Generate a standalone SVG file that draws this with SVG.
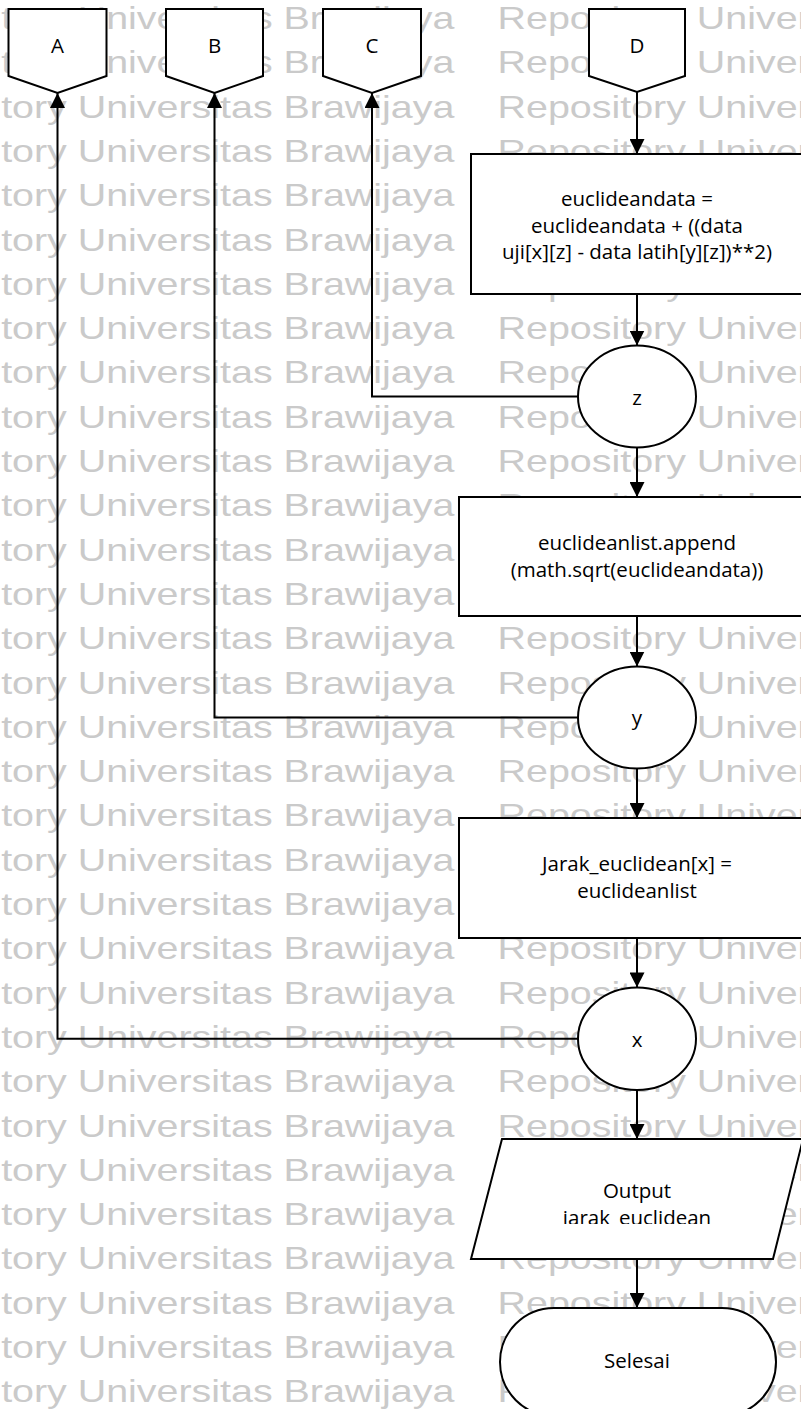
<svg xmlns="http://www.w3.org/2000/svg" xmlns:xlink="http://www.w3.org/1999/xlink" width="801" height="1409" viewBox="0 0 801 1409">
  <style>
    .wm { font-family: "Liberation Sans", Arial, sans-serif; font-size: 32px; fill: #cacaca; }
    .shape { fill: #ffffff; stroke: #000000; stroke-width: 2; }
    .lbl { font-family: "Open Sans", "Liberation Sans", sans-serif; font-size: 20.5px; fill: #000000; text-anchor: middle; }
    .wire { fill: none; stroke: #000000; stroke-width: 2; }
  </style>
  <defs>
    <marker id="arrow" viewBox="0 0 15 15" refX="15" refY="7.5" markerWidth="15" markerHeight="15" markerUnits="userSpaceOnUse" orient="auto">
      <path d="M0,0 L15,7.5 L0,15 z" fill="#000000"/>
    </marker>
    <!-- one watermark row: two copies of the repository line -->
    <g id="wmRow">
      <text class="wm" x="-121.5" y="0" textLength="575.8" lengthAdjust="spacingAndGlyphs">Repository Universitas Brawijaya</text>
      <text class="wm" x="497.6" y="0" textLength="575.8" lengthAdjust="spacingAndGlyphs">Repository Universitas Brawijaya</text>
    </g>
    <clipPath id="outClip">
      <rect x="400" y="1139" width="401" height="85"/>
    </clipPath>
  </defs>

  <rect x="0" y="0" width="801" height="1409" fill="#ffffff"/>

  <!-- page watermark -->
  <g id="watermark">
    <use xlink:href="#wmRow" transform="translate(0,29)"/>
    <use xlink:href="#wmRow" transform="translate(0,73.3)"/>
    <use xlink:href="#wmRow" transform="translate(0,117.6)"/>
    <use xlink:href="#wmRow" transform="translate(0,161.9)"/>
    <use xlink:href="#wmRow" transform="translate(0,206.2)"/>
    <use xlink:href="#wmRow" transform="translate(0,250.5)"/>
    <use xlink:href="#wmRow" transform="translate(0,294.8)"/>
    <use xlink:href="#wmRow" transform="translate(0,339.1)"/>
    <use xlink:href="#wmRow" transform="translate(0,383.4)"/>
    <use xlink:href="#wmRow" transform="translate(0,427.7)"/>
    <use xlink:href="#wmRow" transform="translate(0,472)"/>
    <use xlink:href="#wmRow" transform="translate(0,516.3)"/>
    <use xlink:href="#wmRow" transform="translate(0,560.6)"/>
    <use xlink:href="#wmRow" transform="translate(0,604.9)"/>
    <use xlink:href="#wmRow" transform="translate(0,649.2)"/>
    <use xlink:href="#wmRow" transform="translate(0,693.5)"/>
    <use xlink:href="#wmRow" transform="translate(0,737.8)"/>
    <use xlink:href="#wmRow" transform="translate(0,782.1)"/>
    <use xlink:href="#wmRow" transform="translate(0,826.4)"/>
    <use xlink:href="#wmRow" transform="translate(0,870.7)"/>
    <use xlink:href="#wmRow" transform="translate(0,915)"/>
    <use xlink:href="#wmRow" transform="translate(0,959.3)"/>
    <use xlink:href="#wmRow" transform="translate(0,1003.6)"/>
    <use xlink:href="#wmRow" transform="translate(0,1047.9)"/>
    <use xlink:href="#wmRow" transform="translate(0,1092.2)"/>
    <use xlink:href="#wmRow" transform="translate(0,1136.5)"/>
    <use xlink:href="#wmRow" transform="translate(0,1180.8)"/>
    <use xlink:href="#wmRow" transform="translate(0,1225.1)"/>
    <use xlink:href="#wmRow" transform="translate(0,1269.4)"/>
    <use xlink:href="#wmRow" transform="translate(0,1313.7)"/>
    <use xlink:href="#wmRow" transform="translate(0,1358)"/>
    <use xlink:href="#wmRow" transform="translate(0,1402.3)"/>
  </g>

  <!-- off-page connectors -->
  <g id="conn-A">
    <polygon class="shape" points="8.5,9 106.5,9 106.5,76 57.5,93 8.5,76"/>
    <text class="lbl" x="57.5" y="53">A</text>
  </g>
  <g id="conn-B">
    <polygon class="shape" points="166,9 263,9 263,76 214.5,93 166,76"/>
    <text class="lbl" x="214.5" y="53">B</text>
  </g>
  <g id="conn-C">
    <polygon class="shape" points="323,9 421,9 421,76 372,93 323,76"/>
    <text class="lbl" x="372" y="53">C</text>
  </g>
  <g id="conn-D">
    <polygon class="shape" points="589,9 685,9 685,76 637,92 589,76"/>
    <text class="lbl" x="637" y="53">D</text>
  </g>

  <!-- process: accumulate squared difference -->
  <g id="proc-sum">
    <rect class="shape" x="471" y="154" width="331" height="140"/>
    <text class="lbl" x="637" y="206">euclideandata =</text>
    <text class="lbl" x="637" y="233">euclideandata + ((data</text>
    <text class="lbl" x="637" y="259">uji[x][z] - data latih[y][z])**2)</text>
  </g>

  <!-- loop z -->
  <g id="loop-z">
    <ellipse class="shape" cx="637" cy="396.5" rx="59" ry="51"/>
    <text class="lbl" x="637" y="405">z</text>
  </g>

  <!-- process: append distance -->
  <g id="proc-append">
    <rect class="shape" x="459" y="497" width="356" height="119"/>
    <text class="lbl" x="637" y="550">euclideanlist.append</text>
    <text class="lbl" x="637" y="577">(math.sqrt(euclideandata))</text>
  </g>

  <!-- loop y -->
  <g id="loop-y">
    <ellipse class="shape" cx="637" cy="717.5" rx="59" ry="51"/>
    <text class="lbl" x="637" y="725">y</text>
  </g>

  <!-- process: store list -->
  <g id="proc-store">
    <rect class="shape" x="459" y="818" width="356" height="120"/>
    <text class="lbl" x="637" y="871">Jarak_euclidean[x] =</text>
    <text class="lbl" x="637" y="898">euclideanlist</text>
  </g>

  <!-- loop x -->
  <g id="loop-x">
    <ellipse class="shape" cx="637" cy="1038.7" rx="59" ry="51.3"/>
    <text class="lbl" x="637" y="1047">x</text>
  </g>

  <!-- output -->
  <g id="output">
    <polygon class="shape" points="502,1139 803,1139 773,1259 471,1259"/>
    <text class="lbl" x="637" y="1198">Output</text>
    <text class="lbl" x="637" y="1225" clip-path="url(#outClip)">jarak_euclidean</text>
  </g>

  <!-- terminator -->
  <g id="end">
    <rect class="shape" x="500" y="1308" width="276" height="108" rx="54" ry="54"/>
    <text class="lbl" x="637" y="1368">Selesai</text>
  </g>

  <!-- flow lines -->
  <g id="connectors">
    <line class="wire" x1="637" y1="92" x2="637" y2="154" marker-end="url(#arrow)"/>
    <line class="wire" x1="637" y1="294" x2="637" y2="345.5" marker-end="url(#arrow)"/>
    <line class="wire" x1="637" y1="447.5" x2="637" y2="497" marker-end="url(#arrow)"/>
    <line class="wire" x1="637" y1="616" x2="637" y2="666.5" marker-end="url(#arrow)"/>
    <line class="wire" x1="637" y1="768.5" x2="637" y2="818" marker-end="url(#arrow)"/>
    <line class="wire" x1="637" y1="938" x2="637" y2="987.4" marker-end="url(#arrow)"/>
    <line class="wire" x1="637" y1="1090" x2="637" y2="1139" marker-end="url(#arrow)"/>
    <line class="wire" x1="637" y1="1259" x2="637" y2="1308" marker-end="url(#arrow)"/>
    <polyline class="wire" points="578,396.5 372,396.5 372,93" marker-end="url(#arrow)"/>
    <polyline class="wire" points="578,717.5 214.5,717.5 214.5,93" marker-end="url(#arrow)"/>
    <polyline class="wire" points="578,1038.7 57.5,1038.7 57.5,93" marker-end="url(#arrow)"/>
  </g>
</svg>
